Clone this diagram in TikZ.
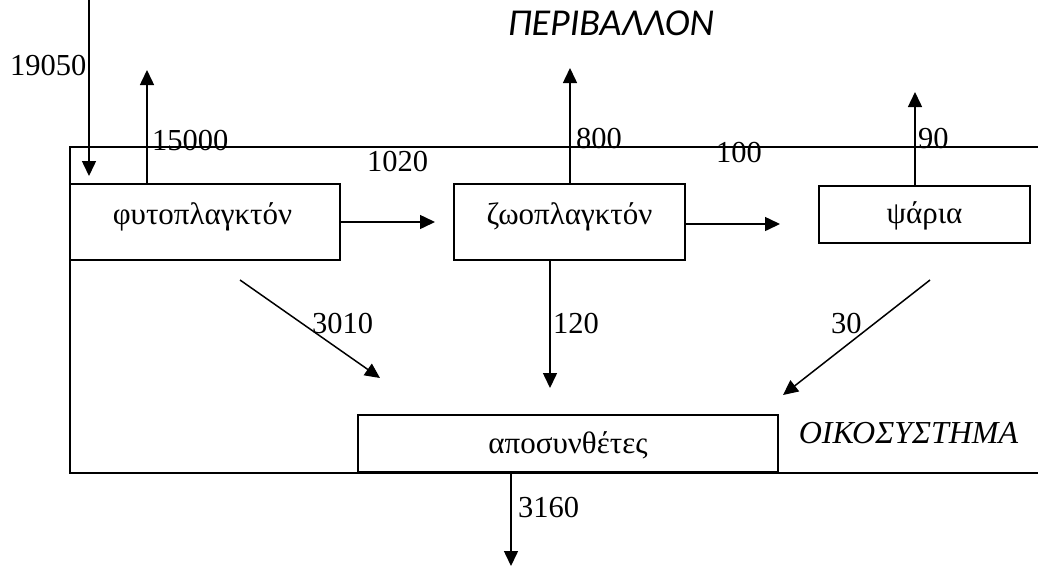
\documentclass[tikz,border=0pt]{standalone}
\usepackage{fontspec}
\setmainfont{Liberation Serif}
\newfontfamily\calfont{Carlito}
\usetikzlibrary{arrows.meta}
\tikzset{
  boxnode/.style={draw, line width=1.6pt, inner sep=0pt, font=\fontsize{31}{34}\selectfont},
  flow/.style={line width=1.5pt, -{Triangle[length=15pt,width=14pt]}},
  num/.style={inner sep=0pt, anchor=base west, font=\fontsize{30.5}{33}\selectfont},
  frame/.style={line width=1.3pt}
}
\begin{document}
\begin{tikzpicture}[x=1pt,y=-1pt]
\useasboundingbox (0,0) rectangle (1038,566);
% ecosystem frame
\coordinate (fTR) at (1040,147);
\coordinate (fTL) at (70,147);
\coordinate (fBL) at (70,473);
\coordinate (fBR) at (1040,473);
\draw[frame] (fTR) -- (fTL) -- (fBL) -- (fBR);
% boxes
\node[boxnode, minimum width=270pt, minimum height=76pt, text height=10pt, text depth=5pt] (fyto) at (205,222) {\hspace*{-5pt}φυτοπλαγκτόν};
\node[boxnode, minimum width=231pt, minimum height=76pt, text height=10pt, text depth=5pt] (zoo) at (569.5,222) {ζωοπλαγκτόν};
\node[boxnode, minimum width=211pt, minimum height=57pt, text height=17pt, text depth=0pt] (fish) at (924.5,214.5) {ψάρια};
\node[boxnode, minimum width=420pt, minimum height=57pt, text height=19pt, text depth=0pt, fill=white] (dec) at (568,443.5) {αποσυνθέτες};
% titles
\node[inner sep=0pt, anchor=base, font=\calfont\itshape\fontsize{38}{40}\selectfont] (env) at (611,35) {ΠΕΡΙΒΑΛΛΟΝ};
\node[inner sep=0pt, anchor=base, font=\itshape\fontsize{32}{34}\selectfont] (eco) at (908.5,443) {ΟΙΚΟΣΥΣΤΗΜΑ};
% free ends
\coordinate (sunTop) at (89,0);
\coordinate (sunEnd) at (89,176);
\coordinate (fyUp) at (147,70);
\coordinate (fyRight) at (435,222);
\coordinate (zoUp) at (570,68);
\coordinate (zoRight) at (780,224);
\coordinate (fiUp) at (915,92);
\coordinate (fyDec) at (380,378);
\coordinate (fyStart) at (240,280);
\coordinate (zoDown) at (550,388);
\coordinate (fiStart) at (930,280);
\coordinate (fiDec) at (783,395);
\coordinate (decDown) at (511,566);
% flows
\draw[flow] (sunTop) -- (sunEnd);
\draw[flow] (fyto.north -| fyUp) -- (fyUp);
\draw[flow] (fyto.east) -- (fyRight);
\draw[flow] (zoo.north -| zoUp) -- (zoUp);
\draw[flow] (zoo.east |- zoRight) -- (zoRight);
\draw[flow] (fish.north -| fiUp) -- (fiUp);
\draw[flow] (fyStart) -- (fyDec);
\draw[flow] (zoo.south -| zoDown) -- (zoDown);
\draw[flow] (fiStart) -- (fiDec);
\draw[flow] (dec.south -| decDown) -- (decDown);
% labels
\node[num] (l19050) at (10,75) {19050};
\node[num] (l15000) at (152,150) {15000};
\node[num] (l1020) at (367,171) {1020};
\node[num] (l800) at (576,148) {800};
\node[num] (l100) at (716,162) {100};
\node[num] (l90) at (918,148) {90};
\node[num] (l3010) at (312,333) {3010};
\node[num] (l120) at (553,333) {120};
\node[num] (l30) at (831,333) {30};
\node[num] (l3160) at (518,517) {3160};
\end{tikzpicture}
\end{document}
